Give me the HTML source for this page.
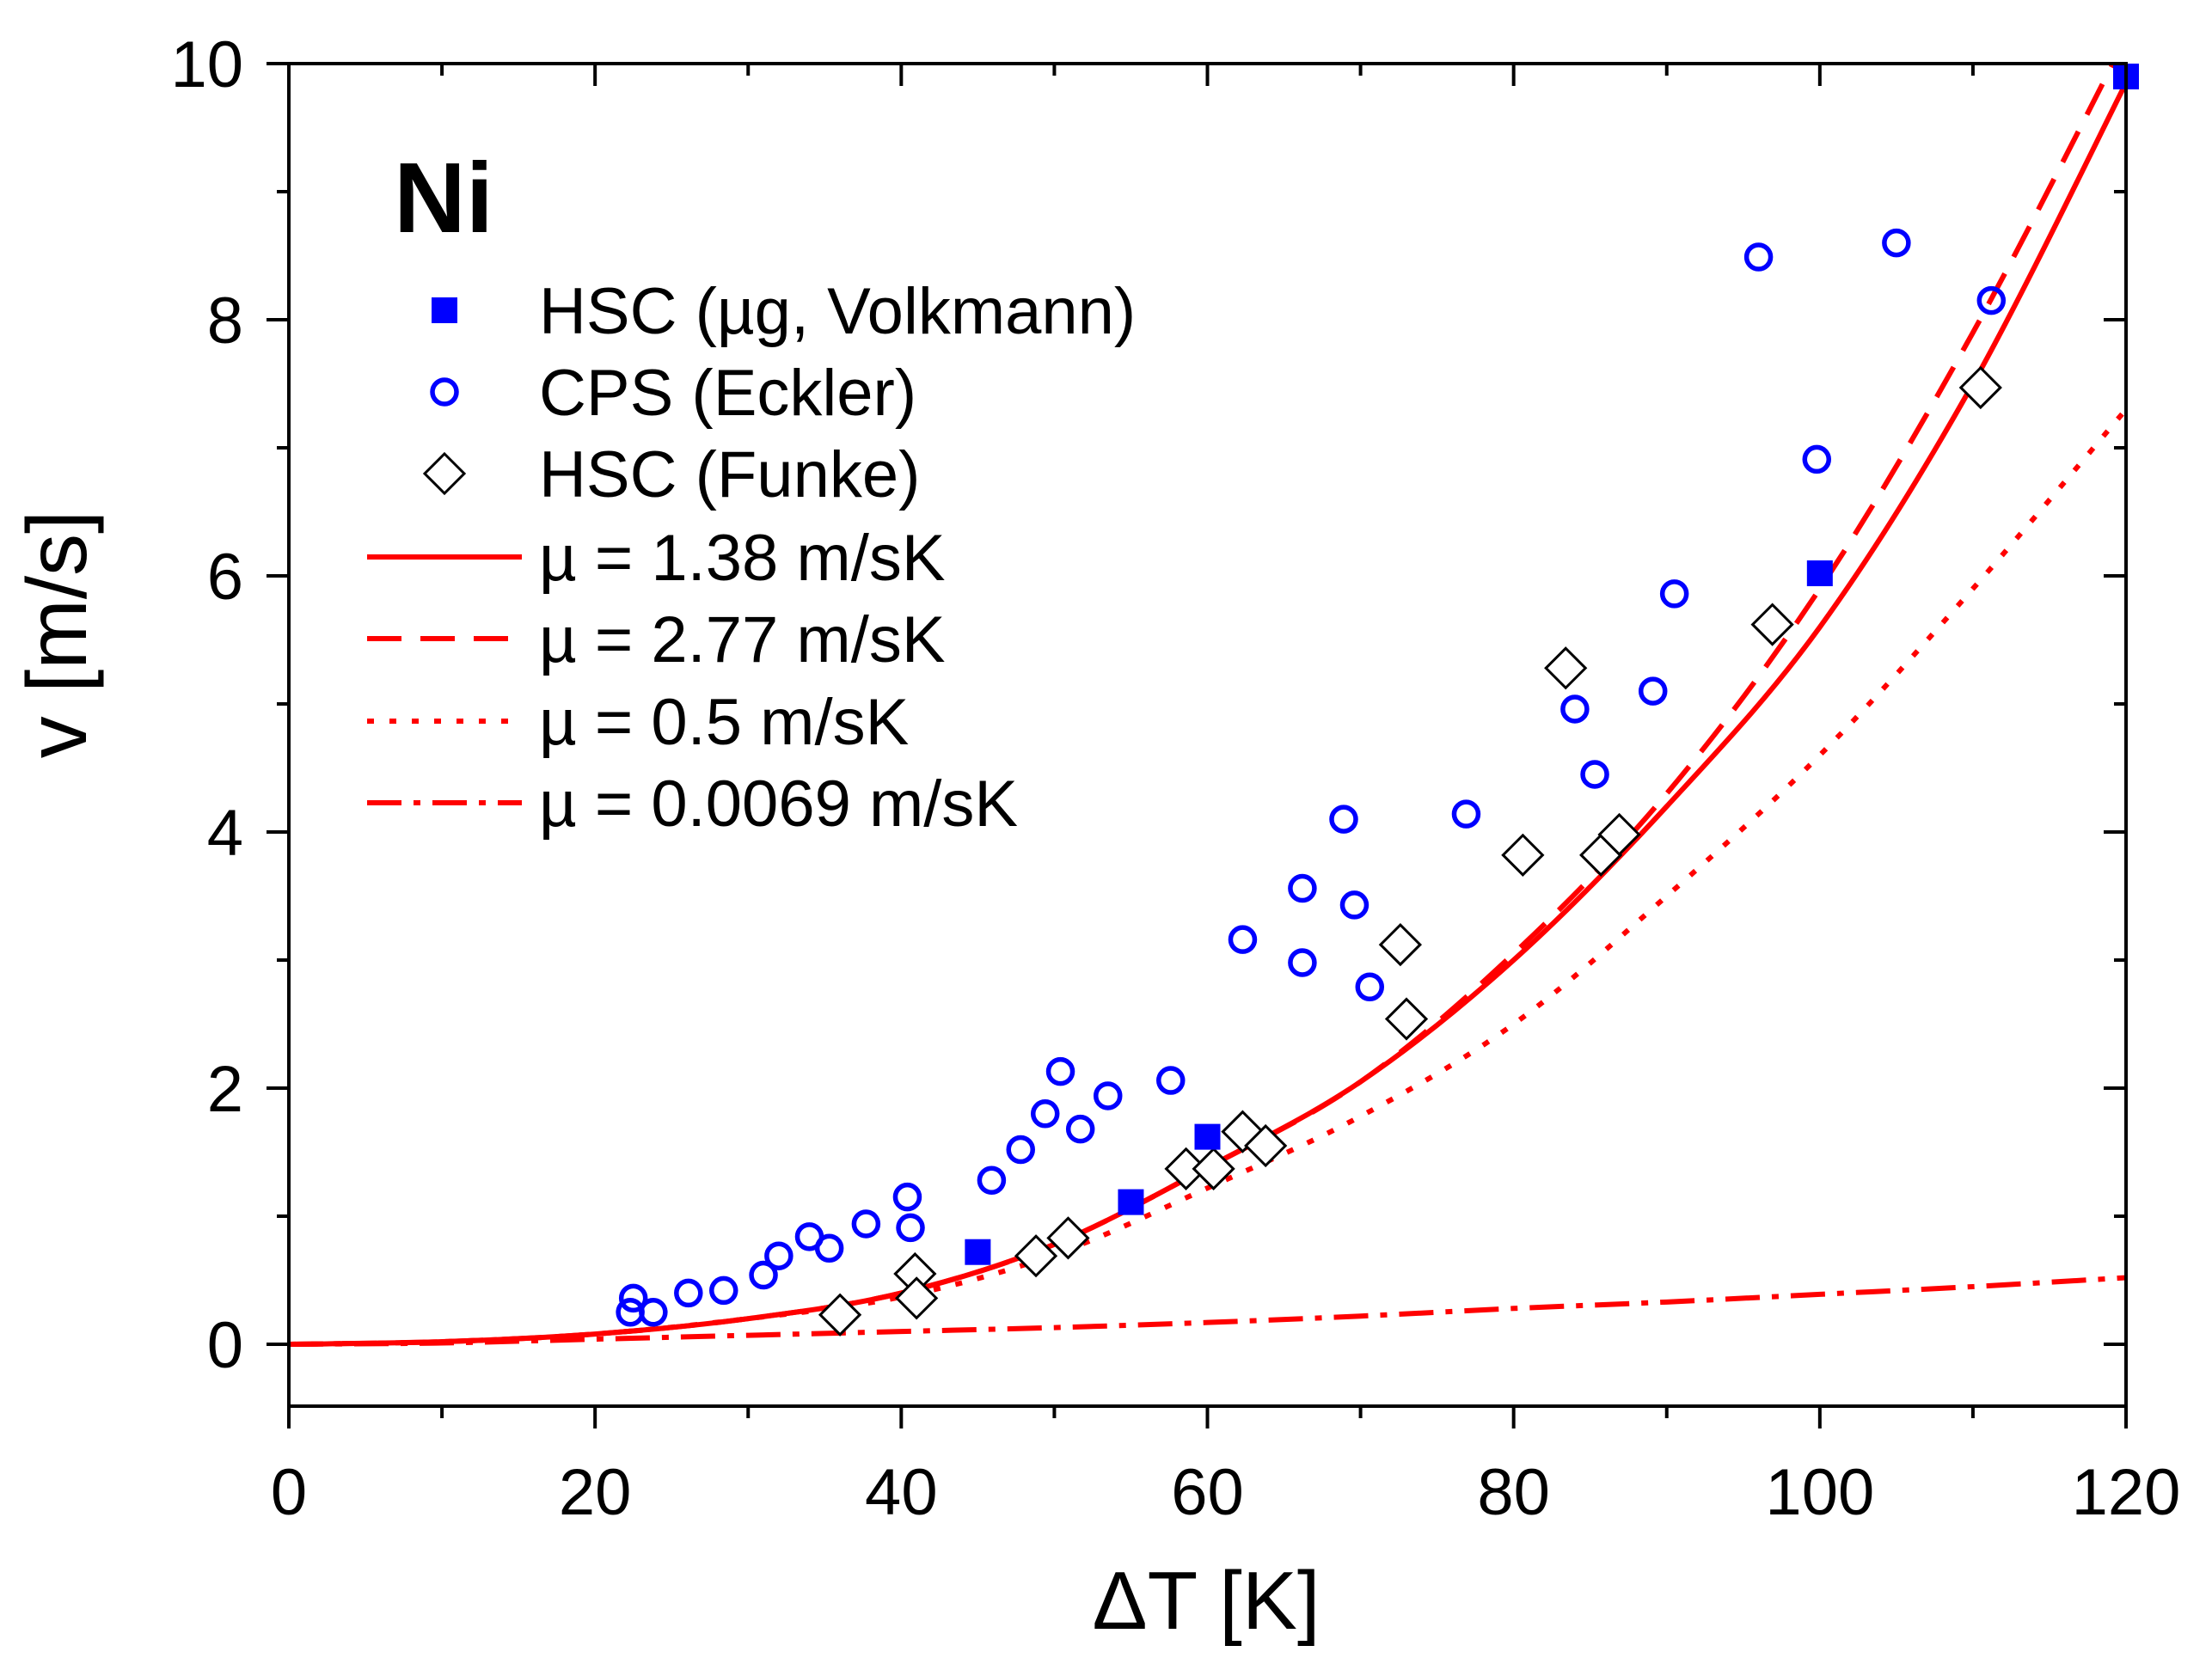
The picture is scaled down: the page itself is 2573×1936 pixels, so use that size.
<!DOCTYPE html>
<html><head><meta charset="utf-8"><style>
html,body{margin:0;padding:0;background:#fff}
svg{display:block;font-family:"Liberation Sans",Arial,sans-serif}
</style></head><body>
<svg id="chart" width="2573" height="1936" viewBox="0 0 2573 1936" xmlns="http://www.w3.org/2000/svg">
<rect width="2573" height="1936" fill="#fff"/>
<g id="curves"></g>
<g id="marks"></g>
<g id="axes"></g>
<text x="458" y="270" font-size="116" font-weight="bold">Ni</text>
<g id="legend"></g>
<text x="1403" y="1895" font-size="96" text-anchor="middle">ΔT [K]</text>
<text transform="translate(100,738) rotate(-90)" font-size="98" text-anchor="middle">v [m/s]</text>
</svg>
<script>
const hscVolkX=[45,55,60,100,120];
const hscVolkY=[0.72,1.11,1.62,6.02,10];
const cpsX=[22.3,22.5,23.8,26.1,28.4,31,32,34,35.3,37.7,40.4,40.6,45.9,47.8,49.4,50.4,51.7,53.5,57.6,62.3,66.2,66.2,68.9,69.6,70.6,76.9,84,85.3,89.1,90.5,96,99.8,105,111.2];
const cpsY=[0.25,0.36,0.25,0.40,0.42,0.54,0.69,0.84,0.75,0.94,1.15,0.91,1.28,1.52,1.80,2.13,1.68,1.94,2.06,3.16,3.56,2.98,4.10,3.43,2.79,4.14,4.96,4.45,5.10,5.86,8.49,6.91,8.6,8.15];
const funkeX=[36,40.9,41,48.8,50.9,58.6,60.4,62.3,63.8,72.6,73,80.6,83.4,85.7,86.9,96.9,110.5];
const funkeY=[0.23,0.55,0.36,0.69,0.83,1.37,1.37,1.66,1.55,3.12,2.54,3.82,5.28,3.82,3.98,5.62,7.47];
const curveX=[0,10,20,30,40,50,60,70,80,90,100,110,120];
const mu138=[0,0.02,0.08,0.2,0.4,0.78,1.38,2.05,3.0,4.2,5.6,7.5,9.85];
const mu277=[0,0.02,0.08,0.2,0.4,0.78,1.38,2.05,3.05,4.3,5.9,7.9,10.2];
const mu05=[0,0.02,0.08,0.2,0.37,0.7,1.22,1.78,2.5,3.5,4.6,5.9,7.3];
const mu0069=[0,0.01,0.04,0.07,0.1,0.13,0.17,0.22,0.28,0.33,0.39,0.45,0.52];
const xTicks=[0,20,40,60,80,100,120];
const yTicks=[0,2,4,6,8,10];

const L=336,R=2473,T=74,B=1636,Y0=1564,Y10=74;
const sx=v=>L+(R-L)*v/120;
const sy=v=>Y0+(Y10-Y0)*v/10;
const NS='http://www.w3.org/2000/svg';
function mk(tag,attrs,parent){const e=document.createElementNS(NS,tag);for(const k in attrs)e.setAttribute(k,attrs[k]);parent.appendChild(e);return e;}
const curves=document.getElementById('curves'),marks=document.getElementById('marks'),axes=document.getElementById('axes'),legend=document.getElementById('legend');

const cp=mk('clipPath',{id:'clip'},curves);
mk('rect',{x:L,y:T,width:R-L,height:B-T},cp);

function pathD(xs,ys){const p=xs.map((x,i)=>[sx(x),sy(ys[i])]);let d='M'+p[0][0]+','+p[0][1];
for(let i=0;i<p.length-1;i++){const p0=p[i-1]||p[i],p1=p[i],p2=p[i+1],p3=p[i+2]||p2;
d+=' C'+(p1[0]+(p2[0]-p0[0])/6)+','+(p1[1]+(p2[1]-p0[1])/6)+' '+(p2[0]-(p3[0]-p1[0])/6)+','+(p2[1]-(p3[1]-p1[1])/6)+' '+p2[0]+','+p2[1];}return d;}
const styles=[
 {ys:mu0069,dash:'40,14,8,14',name:'curve-mu-0.0069'},
 {ys:mu05,dash:'8,18',name:'curve-mu-0.5'},
 {ys:mu277,dash:'40,22',name:'curve-mu-2.77'},
 {ys:mu138,dash:'',name:'curve-mu-1.38'}];
styles.forEach(s=>{const e=mk('path',{d:pathD(curveX,s.ys),fill:'none',stroke:'#f00','stroke-width':6,'stroke-dasharray':s.dash,'clip-path':'url(#clip)'},curves);

});

function circle(x,y,g){return mk('circle',{cx:x,cy:y,r:14,fill:'none',stroke:'#00f','stroke-width':5.5},g);}
function diamond(x,y,g){const d=23;return mk('polygon',{points:`${x},${y-d} ${x+d},${y} ${x},${y+d} ${x-d},${y}`,fill:'#fff',stroke:'#000','stroke-width':3},g);}
function square(x,y,g){return mk('rect',{x:x-15,y:y-15,width:30,height:30,fill:'#00f'},g);}
cpsX.forEach((x,i)=>{const e=circle(sx(x),sy(cpsY[i]),marks);

});
funkeX.forEach((x,i)=>{const e=diamond(sx(x),sy(funkeY[i]),marks);

});
hscVolkX.forEach((x,i)=>{const e=square(sx(x),Math.max(sy(hscVolkY[i]),T+15),marks);

});

mk('rect',{x:L,y:T,width:R-L,height:B-T,fill:'none',stroke:'#000','stroke-width':4},axes);
for(let v=0;v<=120;v+=10){const x=sx(v),maj=v%20===0,len=maj?26:14;
mk('line',{x1:x,y1:B,x2:x,y2:B+len,stroke:'#000','stroke-width':4},axes);
mk('line',{x1:x,y1:T,x2:x,y2:T+len,stroke:'#000','stroke-width':4},axes);}
for(let v=0;v<=10;v+=1){const y=sy(v),maj=v%2===0,len=maj?26:14;
mk('line',{x1:L,y1:y,x2:L-len,y2:y,stroke:'#000','stroke-width':4},axes);
mk('line',{x1:R,y1:y,x2:R-len,y2:y,stroke:'#000','stroke-width':4},axes);}
xTicks.forEach(v=>{const t=mk('text',{x:sx(v),y:1762,'font-size':76,'text-anchor':'middle'},axes);t.textContent=v;

});
yTicks.forEach(v=>{const t=mk('text',{x:283,y:sy(v)+27,'font-size':76,'text-anchor':'end'},axes);t.textContent=v;

});

const legRows=[361,456,551,648,743,839,934];
const legText=['HSC (µg, Volkmann)','CPS (Eckler)','HSC (Funke)','µ = 1.38 m/sK','µ = 2.77 m/sK','µ = 0.5 m/sK','µ = 0.0069 m/sK'];
const legDash=['','40,22','8,18','40,14,8,14'];
legRows.forEach((y,i)=>{let e;
 if(i===0)e=square(517,y,legend);else if(i===1)e=circle(517,y,legend);else if(i===2)e=diamond(517,y,legend);
 else e=mk('line',{x1:427,y1:y,x2:607,y2:y,stroke:'#f00','stroke-width':6,'stroke-dasharray':legDash[i-3]},legend);
 
 
 const t=mk('text',{x:627,y:y+27,'font-size':76},legend);t.textContent=legText[i];
 
 });
</script>
</body></html>
